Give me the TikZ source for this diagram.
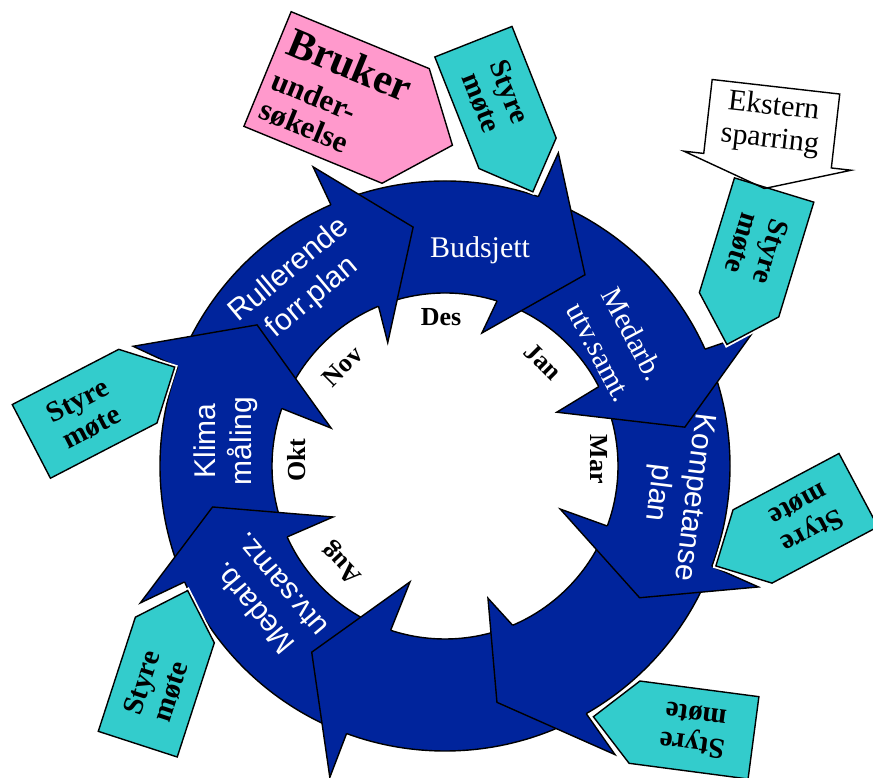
\documentclass[tikz,border=0pt]{standalone}
\usepackage{fontspec}
\setmainfont{Liberation Serif}
\setsansfont{Liberation Sans}
\usetikzlibrary{shapes.symbols,calc}
\definecolor{ringblue}{RGB}{0,36,156}
\definecolor{styreteal}{RGB}{51,204,204}
\definecolor{brukerpink}{RGB}{255,153,204}

\begin{document}
\begin{tikzpicture}[x=1pt, y=1pt, line width=1.4pt,
  head/.style={draw, fill=ringblue, line join=miter},
  serif/.style={text=white, align=center, inner sep=0pt, font=\fontsize{30}{38}\selectfont},
  sans/.style={text=white, align=center, inner sep=0pt, font=\sffamily\fontsize{30}{36}\selectfont},
  mnd/.style={inner sep=0pt, font=\bfseries\fontsize{26}{26}\selectfont},
  styre/.style={draw, fill=styreteal, signal, signal to=east, signal pointer angle=90,
    preaction={draw=white, line width=5pt}, minimum height=83pt, minimum width=161.5pt,
    inner sep=0pt, align=center, font=\bfseries\fontsize{29}{30}\selectfont}]
\useasboundingbox (0,0) rectangle (873,778);

% ring with arrow heads
\begin{scope}[shift={(445,312)}]
\draw[fill=ringblue, even odd rule] (0,0) circle[radius=285pt] (0,0) circle[radius=173pt];
\draw[head] (113.6:285) -- (113.8:327) -- (97.6:241) -- (114.9:136) -- (112.6:173);
\draw[head] (70.9:285) -- (70.1:333) -- (53.8:237) -- (74.5:138) -- (72.5:173);
\draw[head] (24.2:285) -- (23.4:335) -- (9.2:243) -- (25.7:124) -- (27.3:173);
\draw[head] (-20.6:285) -- (-21.1:336) -- (-34.1:235) -- (-20.5:123) -- (-20.3:173);
\draw[head] (-60.3:285) -- (-59.5:335) -- (-77.6:242) -- (-72:139) -- (-67:173);
\draw[head] (-110.2:285) -- (-110.3:332) -- (-125.6:229) -- (-106.8:121) -- (-108.3:173);
\draw[head] (-156:285) -- (-155.8:334) -- (-170:236) -- (-155.5:123) -- (-155.8:173);
\draw[head] (159.7:285) -- (159:334) -- (143.1:235) -- (161.6:120) -- (160.6:173);

\node (rul)[sans, rotate=40] at (128.4:232) {Rullerende\\forr.plan};
\node (bud)[serif] at (80.8:219) {Budsjett};
\node (med)[serif, rotate=-62] at (35.6:211) {Medarb.\\utv.samt.};
\node (kom)[sans, rotate=-97] at (-7.2:232) {Kompetanse\\plan};
\node (med2)[sans, rotate=130] at (216.4:221) {Medarb.\\utv.samz.};
\node (kli)[sans, rotate=90] at (173.5:221) {Klima\\måling};

\node (des)[mnd] at (91.5:149) {Des};
\node (jan)[mnd, rotate=-45] at (46.7:143) {Jan};
\node (mar)[mnd, rotate=-90] at (2.6:154) {Mar};
\node (aug)[mnd, rotate=133] at (223.3:141) {Aug};
\node (okt)[mnd, rotate=90] at (177.7:149) {Okt};
\node (nov)[mnd, rotate=45] at (135.8:143) {Nov};
\end{scope}

% callouts
\node (s1)[styre, rotate=-68.4] at (495.5,680.5) {Styre\\møte};
\node (s2)[styre, rotate=-107] at (756.6,530.6) {Styre\\møte};
\node (s3)[styre, rotate=27.4] at (84.6,364.2) {Styre\\møte};
\node (s4)[styre, rotate=208] at (805.5,259.7) {Styre\\møte};
\node (s5)[styre, rotate=72] at (156.3,90.9) {Styre\\møte};
\node (s6)[styre, rotate=172.5] at (694,48) {Styre\\møte};

\node (bruker)[draw, fill=brukerpink, signal, signal to=east, signal pointer angle=101.6,
  minimum height=124pt, minimum width=200pt, inner sep=0pt, rotate=-22.4, align=left,
  font=\bfseries\fontsize{31}{32}\selectfont] at (336.6,680.5)
  {{\fontsize{42}{42}\selectfont Bruker}\\[6pt]under-\\søkelse};

\node (ekst)[rotate=-6.5, minimum width=127pt, minimum height=73pt, align=center,
  font=\fontsize{30}{33}\selectfont] at (771.75,654.25) {Ekstern\\sparring};
\draw (ekst.north west) -- (ekst.north east) -- (ekst.south east)
  -- ($(ekst.south east)!-20pt!(ekst.south west)$) -- ($(ekst.south)!-28pt!(ekst.north)$)
  -- ($(ekst.south west)!-20pt!(ekst.south east)$) -- (ekst.south west) -- cycle;
\end{tikzpicture}
\end{document}
